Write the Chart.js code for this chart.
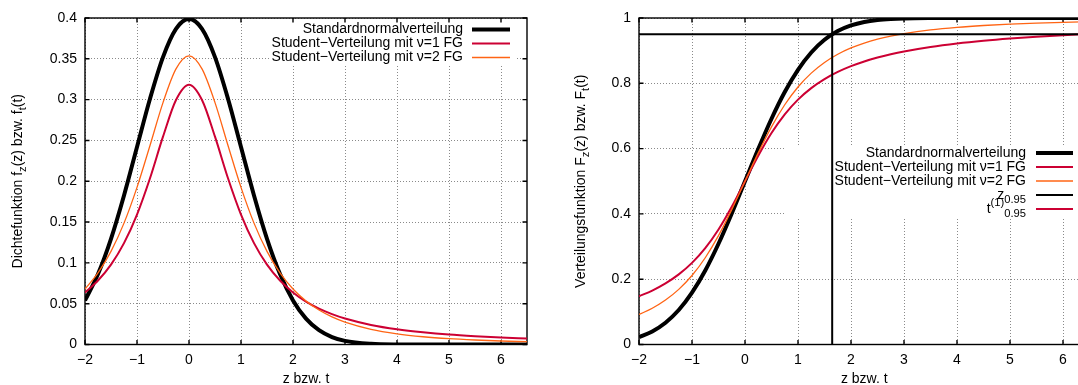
<!DOCTYPE html>
<html><head><meta charset="utf-8">
<script src="https://cdn.jsdelivr.net/npm/chart.js@4.4.1/dist/chart.umd.min.js"></script>
<style>
html,body{margin:0;padding:0;background:#fff;overflow:hidden;width:1078px;height:385px}
#wrap{position:relative;width:1078px;height:385px;overflow:hidden;background:#fff}
#c1{position:absolute;left:0;top:0}
#c2{position:absolute;left:539px;top:0}
</style></head><body>
<div id="wrap"><canvas id="c1" width="539" height="385"></canvas><canvas id="c2" width="563" height="385"></canvas></div>
<script>
// ---- data ----
const xValues   = [-2,-1.75,-1.5,-1.25,-1,-0.75,-0.5,-0.25,0,0.25,0.5,0.75,1,1.25,1.5,1.75,2,2.25,2.5,2.75,3,3.5,4,4.5,5,5.5,6,6.5];
const pdfNormal = [0.0540,0.0863,0.1295,0.1826,0.2420,0.3011,0.3521,0.3867,0.3989,0.3867,0.3521,0.3011,0.2420,0.1826,0.1295,0.0863,0.0540,0.0317,0.0175,0.0091,0.0044,0.0009,0.0001,0,0,0,0,0];
const pdfT1     = [0.0637,0.0784,0.0979,0.1242,0.1592,0.2037,0.2546,0.2996,0.3183,0.2996,0.2546,0.2037,0.1592,0.1242,0.0979,0.0784,0.0637,0.0525,0.0439,0.0372,0.0318,0.0240,0.0187,0.0150,0.0122,0.0102,0.0086,0.0074];
const pdfT2     = [0.0680,0.0878,0.1141,0.1487,0.1925,0.2438,0.2963,0.3376,0.3536,0.3376,0.2963,0.2438,0.1925,0.1487,0.1141,0.0878,0.0680,0.0533,0.0422,0.0338,0.0274,0.0186,0.0131,0.0095,0.0071,0.0055,0.0043,0.0034];
const cdfNormal = [0.0228,0.0401,0.0668,0.1056,0.1587,0.2266,0.3085,0.4013,0.5,0.5987,0.6915,0.7734,0.8413,0.8944,0.9332,0.9599,0.9772,0.9878,0.9938,0.9970,0.9987,0.9998,1,1,1,1,1,1];
const cdfT1     = [0.1476,0.1652,0.1872,0.2148,0.25,0.2952,0.3524,0.4220,0.5,0.5780,0.6476,0.7048,0.75,0.7852,0.8128,0.8348,0.8524,0.8669,0.8789,0.8890,0.8976,0.9114,0.9220,0.9304,0.9372,0.9428,0.9474,0.9514];
const cdfT2     = [0.0918,0.1111,0.1362,0.1689,0.2113,0.2657,0.3333,0.4130,0.5,0.5870,0.6667,0.7343,0.7887,0.8311,0.8638,0.8889,0.9082,0.9233,0.9352,0.9447,0.9523,0.9636,0.9714,0.9770,0.9811,0.9842,0.9867,0.9886];
const z095 = 1.645;      // z_0.95
const t1_095 = 6.314;    // t^(1)_0.95
const p095 = 0.95;

const xRange = [-2, 6.5];
const xTickValues = [-2,-1,0,1,2,3,4,5,6];
const xTickLabels = ['\u22122','\u22121','0','1','2','3','4','5','6'];
const yTickValuesLeft = [0,0.05,0.1,0.15,0.2,0.25,0.3,0.35,0.4];
const yTickLabelsLeft = ['0','0.05','0.1','0.15','0.2','0.25','0.3','0.35','0.4'];
const yTickValuesRight = [0,0.2,0.4,0.6,0.8,1];
const yTickLabelsRight = ['0','0.2','0.4','0.6','0.8','1'];

const seriesNames = ['Standardnormalverteilung','Student\u2212Verteilung mit \u03bd=1 FG','Student\u2212Verteilung mit \u03bd=2 FG'];
const xTitle = 'z bzw. t';
const yTitleLeft  = [['Dichtefunktion f',0],['z','sub'],['(z) bzw. f',0],['t','sub'],['(t)',0]];
const yTitleRight = [['Verteilungsfunktion F',0],['z','sub'],['(z) bzw. F',0],['t','sub'],['(t)',0]];
const zLabel = [['z',0],['0.95','sub']];
const tLabel = [['t',0],['(1)','sup'],['0.95','sub']];

// ---- styling ----
const FONT = '"Liberation Sans", Arial, Helvetica, sans-serif';
const FS = 14;
const BLACK = '#000000', RED = '#cc0033', ORANGE = '#ff6414';

function pts(xs, ys){ return xs.map((x,i)=>({x:x, y:ys[i]})); }

function richLayout(ctx, parts, size){
  let w = 0; const out = [];
  for (const [t,k] of parts){
    const s = k ? size*0.8 : size;
    ctx.font = s + 'px ' + FONT;
    const tw = ctx.measureText(t).width;
    out.push({t:t, k:k, s:s, x:w}); w += tw;
  }
  return {w:w, out:out};
}
function drawRich(ctx, parts, x, y, size, align){
  const L = richLayout(ctx, parts, size);
  const x0 = align === 'right' ? x - L.w : x - L.w/2;
  ctx.fillStyle = '#000'; ctx.textBaseline = 'middle'; ctx.textAlign = 'left';
  L.out.forEach(p => {
    ctx.font = p.s + 'px ' + FONT;
    const dy = p.k === 'sub' ? size*0.32 : (p.k === 'sup' ? -size*0.42 : 0);
    ctx.fillText(p.t, x0 + p.x, y + dy);
  });
}

const gpPlugin = {
  id: 'gp',
  beforeDatasetsDraw(chart){
    const o = chart.options.plugins.gp; const ctx = chart.ctx; const a = chart.chartArea;
    const k = o.key;
    ctx.save();
    // opaque key box
    ctx.fillStyle = '#fff';
    ctx.fillRect(a.left + k.box[0], a.top + k.box[1], k.box[2]-k.box[0], k.box[3]-k.box[1]);
    // frame
    ctx.strokeStyle = '#000'; ctx.lineWidth = 1.4; ctx.setLineDash([]);
    ctx.strokeRect(a.left, a.top, a.right - a.left, a.bottom - a.top);
    // inward tick marks (mirrored)
    const xs = chart.scales.x, ys = chart.scales.y, tl = 4.5;
    ctx.beginPath();
    xs.ticks.forEach(t => { const px = xs.getPixelForValue(t.value);
      ctx.moveTo(px, a.bottom); ctx.lineTo(px, a.bottom - tl);
      ctx.moveTo(px, a.top); ctx.lineTo(px, a.top + tl); });
    ys.ticks.forEach(t => { const py = ys.getPixelForValue(t.value);
      ctx.moveTo(a.left, py); ctx.lineTo(a.left + tl, py);
      ctx.moveTo(a.right, py); ctx.lineTo(a.right - tl, py); });
    ctx.stroke();
    // key entries
    k.items.forEach((it, i) => {
      const y = a.top + k.row0 + i * k.step;
      drawRich(ctx, it.parts, a.left + k.textRight, y, FS, 'right');
      const ds = chart.data.datasets[it.ds];
      ctx.beginPath(); ctx.strokeStyle = ds.borderColor; ctx.lineWidth = ds.borderWidth;
      ctx.moveTo(a.left + k.s1, y); ctx.lineTo(a.left + k.s2, y); ctx.stroke();
    });
    // y axis title with subscripts
    ctx.translate(o.yTitleX, (a.top + a.bottom)/2);
    ctx.rotate(-Math.PI/2);
    drawRich(ctx, o.yTitle, 0, 0, FS, 'center');
    ctx.restore();
  }
};

function lineDs(label, data, color, width, order){
  return {label:label, data:data, borderColor:color, backgroundColor:color, borderWidth:width,
          pointRadius:0, pointHoverRadius:0, fill:false, cubicInterpolationMode:'monotone', order:order};
}

function makeChart(canvas, cfg){
  const font = {family: FONT, size: FS};
  return new Chart(canvas, {
    type: 'line',
    data: {datasets: cfg.datasets},
    options: {
      responsive: false, animation: false, devicePixelRatio: 1,
      layout: {padding: cfg.padding},
      events: [],
      plugins: {legend: {display:false}, tooltip: {enabled:false},
        gp: {key: cfg.key, yTitle: cfg.yTitle, yTitleX: cfg.yTitleX}},
      scales: {
        x: {type:'linear', min:xRange[0], max:xRange[1],
            afterBuildTicks: s => { s.ticks = xTickValues.map(v => ({value:v})); },
            afterFit: s => { s.height = cfg.xAxisHeight; },
            ticks: {callback: (v,i) => xTickLabels[i], font:font, color:'#000', padding:7, maxRotation:0, autoSkip:false},
            grid: {color:'#8a8a8a', lineWidth:1, drawTicks:false},
            border: {display:false, dash:[1,2]},
            title: {display:true, text:xTitle, font:font, color:'#000', padding:{top:0, bottom:-3}}},
        y: {type:'linear', min:cfg.yMin, max:cfg.yMax,
            afterBuildTicks: s => { s.ticks = cfg.yTickValues.map(v => ({value:v})); },
            afterFit: s => { s.width = cfg.yAxisWidth; },
            ticks: {callback: (v,i) => cfg.yTickLabels[i], font:font, color:'#000', padding:8, autoSkip:false},
            grid: {color:'#8a8a8a', lineWidth:1, drawTicks:false},
            border: {display:false, dash:[1,2]}}
      }
    },
    plugins: [gpPlugin]
  });
}

// left: density
makeChart(document.getElementById('c1'), {
  datasets: [
    lineDs(seriesNames[0], pts(xValues, pdfNormal), BLACK, 4, 3),
    lineDs(seriesNames[1], pts(xValues, pdfT1), RED, 2, 2),
    lineDs(seriesNames[2], pts(xValues, pdfT2), ORANGE, 1.3, 1)
  ],
  padding: {left:0, top:18, right:12, bottom:0},
  xAxisHeight: 40.5, yAxisWidth: 85,
  yMin: 0, yMax: 0.4, yTickValues: yTickValuesLeft, yTickLabels: yTickLabelsLeft,
  yTitle: yTitleLeft, yTitleX: 18,
  key: {textRight:378, s1:387, s2:425, row0:11.5, step:14, box:[184, 1, 430, 48],
        items: [{parts:[[seriesNames[0],0]], ds:0},{parts:[[seriesNames[1],0]], ds:1},{parts:[[seriesNames[2],0]], ds:2}]}
});

// right: distribution function
makeChart(document.getElementById('c2'), {
  datasets: [
    lineDs(seriesNames[0], pts(xValues, cdfNormal), BLACK, 4, 6),
    lineDs(seriesNames[1], pts(xValues, cdfT1), RED, 2, 5),
    lineDs(seriesNames[2], pts(xValues, cdfT2), ORANGE, 1.3, 4),
    lineDs('z0.95', [{x:z095, y:0},{x:z095, y:1}], BLACK, 2, 3),
    lineDs('t0.95', [{x:t1_095, y:0},{x:t1_095, y:1}], RED, 2, 2),
    lineDs('p0.95', [{x:xRange[0], y:p095},{x:xRange[1], y:p095}], BLACK, 2, 1)
  ],
  padding: {left:0, top:18, right:12.5, bottom:0},
  xAxisHeight: 40.5, yAxisWidth: 100,
  yMin: 0, yMax: 1, yTickValues: yTickValuesRight, yTickLabels: yTickLabelsRight,
  yTitle: yTitleRight, yTitleX: 42,
  key: {textRight:387, s1:397, s2:434, row0:135, step:14, box:[145, 127, 450, 199],
        items: [{parts:[[seriesNames[0],0]], ds:0},{parts:[[seriesNames[1],0]], ds:1},{parts:[[seriesNames[2],0]], ds:2},
                {parts:zLabel, ds:3},{parts:tLabel, ds:4}]}
});
</script>
</body></html>
